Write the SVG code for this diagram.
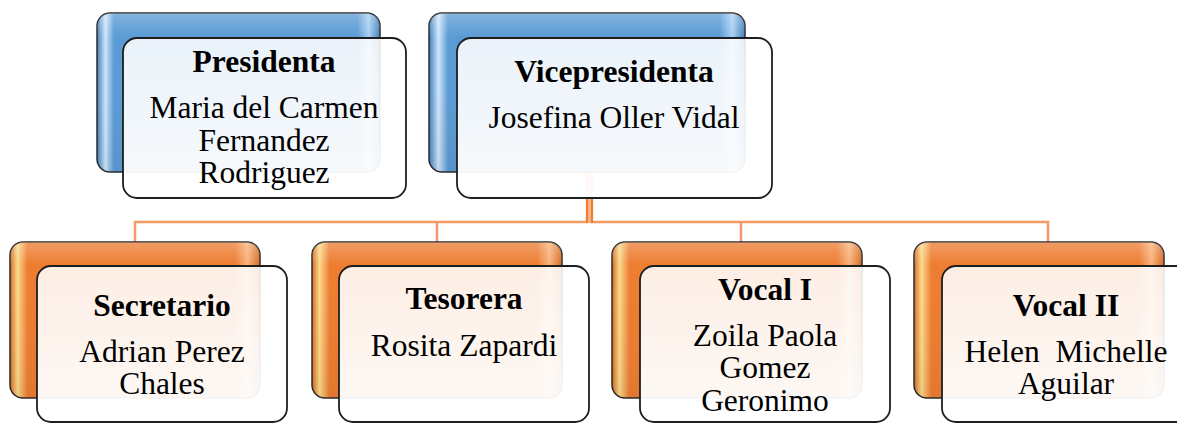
<svg xmlns="http://www.w3.org/2000/svg" width="1177" height="424" viewBox="0 0 1177 424">
<defs>
<linearGradient id="blueG" x1="0" y1="0" x2="1" y2="0">
<stop offset="0" stop-color="#3f7fc0"/>
<stop offset="0.03" stop-color="#cfe6fa"/>
<stop offset="0.06" stop-color="#5b9bd5"/>
<stop offset="0.92" stop-color="#5b9bd5"/>
<stop offset="0.96" stop-color="#a9d0f2"/>
<stop offset="1" stop-color="#3f7fc0"/>
</linearGradient>
<linearGradient id="orangeG" x1="0" y1="0" x2="1" y2="0">
<stop offset="0" stop-color="#d8691f"/>
<stop offset="0.03" stop-color="#fbd98a"/>
<stop offset="0.07" stop-color="#ed7d31"/>
<stop offset="0.9" stop-color="#ed7d31"/>
<stop offset="0.95" stop-color="#f8b27a"/>
<stop offset="1" stop-color="#d8691f"/>
</linearGradient>
<linearGradient id="sheen" x1="0" y1="0" x2="0" y2="1">
<stop offset="0" stop-color="#ffffff" stop-opacity="0.25"/>
<stop offset="0.15" stop-color="#ffffff" stop-opacity="0"/>
<stop offset="1" stop-color="#000000" stop-opacity="0.05"/>
</linearGradient>
<linearGradient id="frontG" x1="0" y1="0" x2="0" y2="1">
<stop offset="0" stop-color="#ffffff" stop-opacity="0.87"/>
<stop offset="1" stop-color="#ffffff" stop-opacity="0.96"/>
</linearGradient>
</defs>
<style>
.back{stroke:#2b2b2b;stroke-width:1.5}
.blue{fill:url(#blueG)}
.orange{fill:url(#orangeG)}
.sh{fill:url(#sheen);stroke:none}
.front{fill:url(#frontG);stroke:#1e1e1e;stroke-width:1.8}
.t{font-family:"Liberation Serif","Times New Roman",serif;font-size:31.5px;fill:#000;text-anchor:middle}
.b{font-weight:bold}
.conn{fill:none;stroke:#ef8a4a;stroke-width:2.5;stroke-opacity:0.85}
.vl{fill:none;stroke:#ed7d31;stroke-width:2.2}
</style>

<g id="connectors">
<path class="conn" d="M135,242 V222 H1048 V242 M437,222 V242 M741,222 V242"/>
<rect x="586" y="172" width="7" height="51" fill="#f6b68a"/>
<path class="vl" d="M587,172 V223 M592,172 V223"/>
</g>

<g id="presidenta">
<rect class="back blue" x="97" y="13" width="283" height="159" rx="13"/>
<rect class="sh" x="97" y="13" width="283" height="159" rx="13"/>
<rect class="front" x="123" y="38" width="283" height="160" rx="14"/>
<text class="t b" x="264" y="72">Presidenta</text>
<text class="t" x="264" y="118">Maria del Carmen</text>
<text class="t" x="264" y="151">Fernandez</text>
<text class="t" x="264" y="183">Rodriguez</text>
</g>

<g id="vicepresidenta">
<rect class="back blue" x="429" y="13" width="316" height="159" rx="13"/>
<rect class="sh" x="429" y="13" width="316" height="159" rx="13"/>
<rect class="front" x="457" y="38" width="315" height="160" rx="14"/>
<text class="t b" x="614" y="82">Vicepresidenta</text>
<text class="t" x="614" y="128">Josefina Oller Vidal</text>
</g>

<g id="secretario">
<rect class="back orange" x="10" y="242" width="250" height="156" rx="13"/>
<rect class="sh" x="10" y="242" width="250" height="156" rx="13"/>
<rect class="front" x="37" y="266" width="250" height="156" rx="14"/>
<text class="t b" x="162" y="316">Secretario</text>
<text class="t" x="162" y="362">Adrian Perez</text>
<text class="t" x="162" y="394">Chales</text>
</g>

<g id="tesorera">
<rect class="back orange" x="312" y="242" width="250" height="156" rx="13"/>
<rect class="sh" x="312" y="242" width="250" height="156" rx="13"/>
<rect class="front" x="339" y="266" width="250" height="156" rx="14"/>
<text class="t b" x="464" y="309">Tesorera</text>
<text class="t" x="464" y="356">Rosita Zapardi</text>
</g>

<g id="vocal1">
<rect class="back orange" x="612" y="242" width="250" height="156" rx="13"/>
<rect class="sh" x="612" y="242" width="250" height="156" rx="13"/>
<rect class="front" x="640" y="266" width="250" height="156" rx="14"/>
<text class="t b" x="765" y="300">Vocal I</text>
<text class="t" x="765" y="346">Zoila Paola</text>
<text class="t" x="765" y="378">Gomez</text>
<text class="t" x="765" y="411">Geronimo</text>
</g>

<g id="vocal2">
<rect class="back orange" x="914" y="242" width="250" height="156" rx="13"/>
<rect class="sh" x="914" y="242" width="250" height="156" rx="13"/>
<rect class="front" x="942" y="266" width="250" height="156" rx="14"/>
<text class="t b" x="1066" y="316">Vocal II</text>
<text class="t" x="1066" y="362" xml:space="preserve">Helen  Michelle</text>
<text class="t" x="1066" y="394">Aguilar</text>
</g>
</svg>
